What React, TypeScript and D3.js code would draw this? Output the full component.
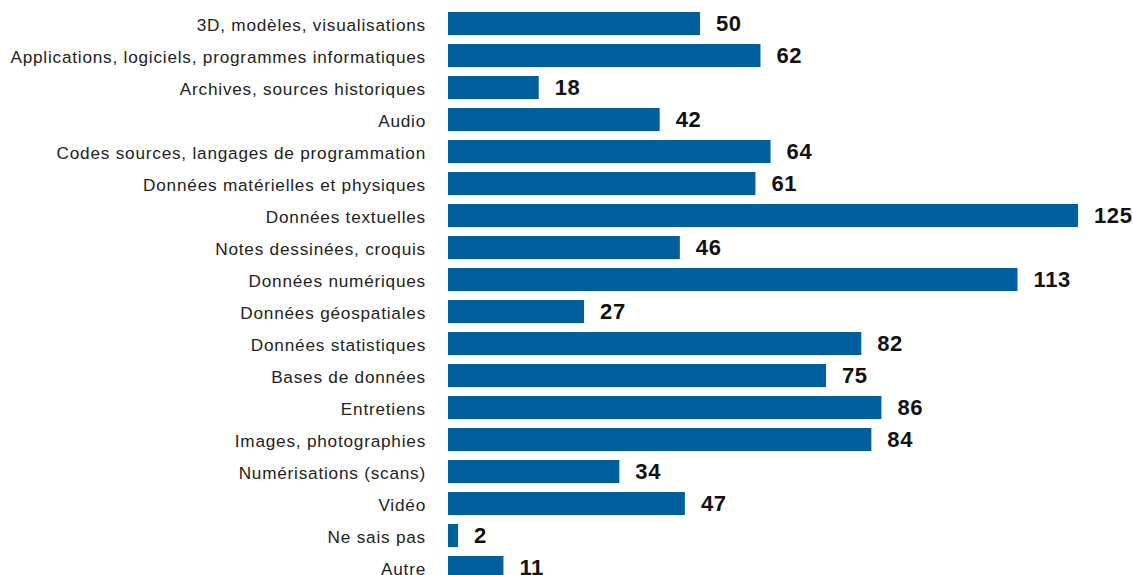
import React from "react";
import * as d3 from "d3";

const categories = [
  "3D, modèles, visualisations",
  "Applications, logiciels, programmes informatiques",
  "Archives, sources historiques",
  "Audio",
  "Codes sources, langages de programmation",
  "Données matérielles et physiques",
  "Données textuelles",
  "Notes dessinées, croquis",
  "Données numériques",
  "Données géospatiales",
  "Données statistiques",
  "Bases de données",
  "Entretiens",
  "Images, photographies",
  "Numérisations (scans)",
  "Vidéo",
  "Ne sais pas",
  "Autre",
];
const values = [50, 62, 18, 42, 64, 61, 125, 46, 113, 27, 82, 75, 86, 84, 34, 47, 2, 11];

const W = 1133;
const H = 575;
const X0 = 448;
const BAR_COLOR = "#00609e";

export default function App() {
  const x = d3.scaleLinear().domain([0, 125]).range([X0, 1078]);
  const y = d3
    .scaleBand<string>()
    .domain(categories)
    .range([0, categories.length * 32])
    .paddingInner(0.28)
    .paddingOuter(0.14);
  const offsetY = 12 - y(categories[0])!;
  return (
    <svg
      width={W}
      height={H}
      style={{ position: "absolute", left: 0, top: 0, background: "#fff" }}
    >
      <g transform={`translate(0,${offsetY})`}>
        {categories.map((c, i) => {
          const yy = y(c)!;
          const cy = yy + y.bandwidth() / 2;
          return (
            <g key={c}>
              <text
                x={426}
                y={cy + 7}
                textAnchor="end"
                fontFamily="Liberation Sans, Arial, sans-serif"
                fontSize={17.2}
                letterSpacing={0.78}
                fill="#222"
              >
                {c}
              </text>
              <rect
                x={x(0)}
                y={yy}
                width={x(values[i]) - x(0)}
                height={y.bandwidth()}
                fill={BAR_COLOR}
              />
              <text
                x={x(values[i]) + 16}
                y={cy + 7.5}
                fontFamily="Liberation Sans, Arial, sans-serif"
                fontWeight="bold"
                fontSize={22}
                letterSpacing={0.6}
                fill="#111"
              >
                {values[i]}
              </text>
            </g>
          );
        })}
      </g>
    </svg>
  );
}
